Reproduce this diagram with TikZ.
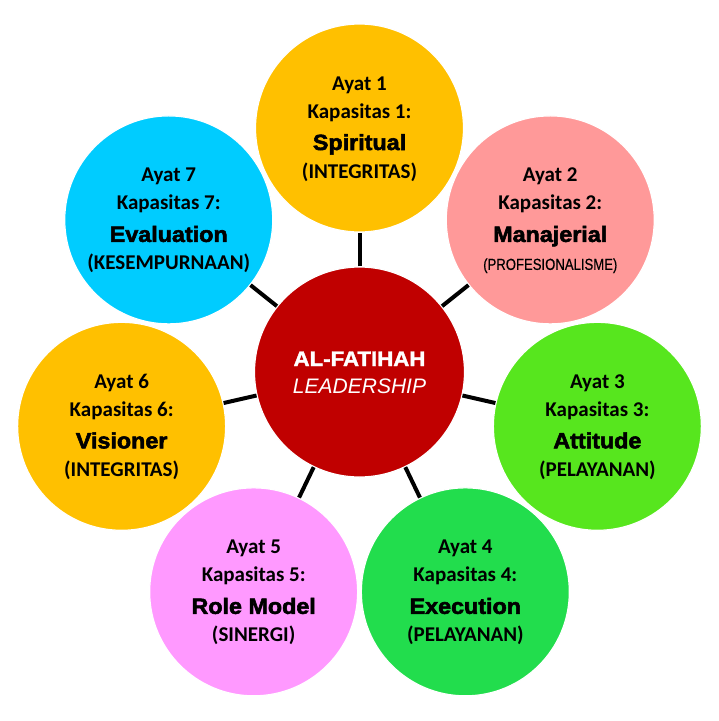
\documentclass[tikz,border=0pt]{standalone}
\usepackage{fontspec}
\setmainfont{Carlito}
\newfontface\bigfont[FakeStretch=1.06,FakeBold=2.5]{Liberation Sans Bold}
\newfontface\narrowfont[FakeStretch=0.82,FakeBold=0.4]{Liberation Sans}
\newfontface\centerbold[FakeStretch=1.06,FakeBold=1.8]{Liberation Sans Bold}
\newfontface\centerit{Liberation Sans Italic}
\usetikzlibrary{calc}
\definecolor{cYellow}{HTML}{FFC000}
\definecolor{cSalmon}{HTML}{FF9999}
\definecolor{cLime}{HTML}{57E61E}
\definecolor{cGreen}{HTML}{22DD4D}
\definecolor{cPink}{HTML}{FF99FF}
\definecolor{cCyan}{HTML}{00CCFF}
\definecolor{cRed}{HTML}{C00000}
\tikzset{
  petal/.style={circle, minimum size=208pt, inner sep=0pt, draw=white, line width=1.2pt},
  hub/.style={circle, minimum size=210pt, inner sep=0pt, draw=white, line width=1.2pt, fill=cRed},
  link/.style={line width=4pt, black},
  smalltxt/.style={anchor=base, inner sep=0pt, font=\bfseries\fontsize{21}{25}\selectfont},
  bigtxt/.style={anchor=base, inner sep=0pt, font=\bigfont\fontsize{22}{26}\selectfont},
  hubtxt/.style={anchor=base, inner sep=0pt, text=white}
}
\begin{document}
\begin{tikzpicture}[x=1pt,y=-1pt]
\useasboundingbox[fill=white] (0,0) rectangle (719,721);
\coordinate (O) at (359.5,372);
\node[hub] (hub) at (O) {};
\foreach \i/\ang/\col in {1/90/cYellow,2/38.57/cSalmon,3/-12.86/cLime,4/-64.29/cGreen,5/-115.71/cPink,6/-167.14/cYellow,7/141.43/cCyan}{
  \node[petal, fill=\col] (p\i) at ($(O)+(\ang:244pt)$) {};
  \draw[link] (hub) -- (p\i);
}
\foreach \i/\big/\sub in {1/Spiritual/(INTEGRITAS),2/Manajerial/{\narrowfont\fontsize{16}{18}\selectfont(PROFESIONALISME)},3/Attitude/(PELAYANAN),4/Execution/(PELAYANAN),5/Role Model/(SINERGI),6/Visioner/(INTEGRITAS),7/Evaluation/(KESEMPURNAAN)}{
  \node[smalltxt] (a\i) at ($(p\i.center)+(0,-38)$) {Ayat \i};
  \node[smalltxt] (k\i) at ($(p\i.center)+(0,-10)$) {Kapasitas \i:};
  \node[bigtxt] (b\i) at ($(p\i.center)+(0,22)$) {\big};
  \node[smalltxt] (s\i) at ($(p\i.center)+(0,50)$) {\sub};
}
\node[hubtxt, font=\centerbold\fontsize{21}{25}\selectfont] (h1) at ($(O)+(0,-6)$) {AL-FATIHAH};
\node[hubtxt, font=\centerit\fontsize{21}{25}\selectfont] (h2) at ($(O)+(0,21)$) {LEADERSHIP};
\end{tikzpicture}
\end{document}
